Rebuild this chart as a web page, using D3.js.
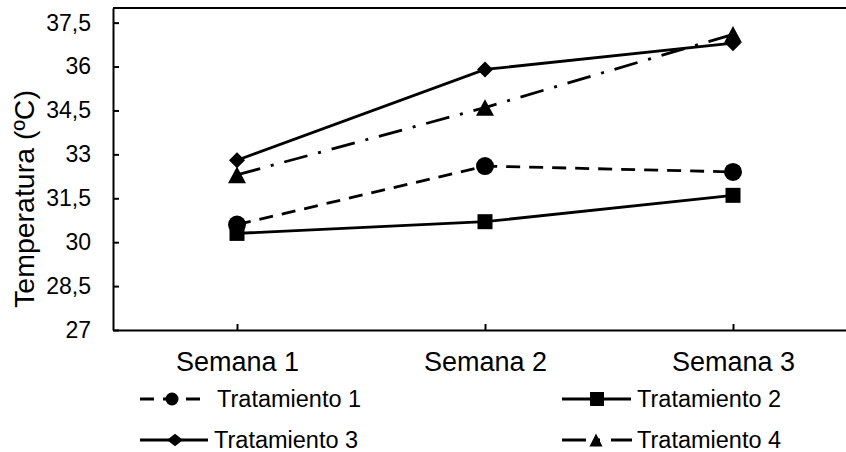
<!DOCTYPE html>
<html>
<head>
<meta charset="utf-8">
<script src="https://cdn.jsdelivr.net/npm/d3@7"></script>
<style>
  html, body { margin: 0; padding: 0; background: #fff; }
  svg { display: block; font-family: "Liberation Sans", Arial, sans-serif; }
</style>
</head>
<body>
<svg id="chart" width="846" height="452"></svg>
<script>
// Weekly temperature per treatment
const categories = ["Semana 1", "Semana 2", "Semana 3"];
const tratamiento1 = [30.6, 32.6, 32.4];
const tratamiento2 = [30.3, 30.7, 31.6];
const tratamiento3 = [32.8, 35.9, 36.8];
const tratamiento4 = [32.3, 34.6, 37.1];
const seriesNames = ["Tratamiento 1", "Tratamiento 2", "Tratamiento 3", "Tratamiento 4"];
const yTicks = [27, 28.5, 30, 31.5, 33, 34.5, 36, 37.5];
const yTitle = "Temperatura (ºC)";

// Marker shapes centred on their bounding box; size = width², aspect = height / width
function diamondSym(aspect) {
  return {
    draw(ctx, size) {
      const w = Math.sqrt(size) / 2, h = w * aspect;
      ctx.moveTo(0, -h); ctx.lineTo(w, 0); ctx.lineTo(0, h); ctx.lineTo(-w, 0); ctx.closePath();
    }
  };
}
function triangleSym(aspect) {
  return {
    draw(ctx, size) {
      const w = Math.sqrt(size), h = w * aspect;
      ctx.moveTo(0, -h / 2); ctx.lineTo(w / 2, h / 2); ctx.lineTo(-w / 2, h / 2); ctx.closePath();
    }
  };
}

const series = [
  { name: seriesNames[0], values: tratamiento1, dash: "14,9",
    sym: d3.symbolCircle, size: Math.PI * 9 * 9, legendSize: Math.PI * 6.5 * 6.5 },
  { name: seriesNames[1], values: tratamiento2, dash: null,
    sym: d3.symbolSquare, size: 15 * 15, legendSize: 14 * 14 },
  { name: seriesNames[2], values: tratamiento3, dash: null,
    sym: diamondSym(1), size: 16 * 16, legendSym: diamondSym(0.78), legendSize: 16 * 16 },
  { name: seriesNames[3], values: tratamiento4, dash: "24,11,3,11",
    sym: triangleSym(0.92), size: 18 * 18, legendSym: triangleSym(1), legendSize: 13 * 13 }
];

const svg = d3.select("#chart");
const plot = { left: 113, right: 857, top: 8, bottom: 330 };

const x = d3.scalePoint().domain(categories).range([plot.left, plot.right]).padding(0.5);
const y = d3.scaleLinear().domain([27, 38]).range([plot.bottom, plot.top]);
const fmt = d3.formatLocale({ decimal: ",", thousands: ".", grouping: [3], currency: ["", ""] }).format("~g");

// Frame: top border, left and bottom axes
svg.append("line").attr("x1", plot.left).attr("x2", plot.right)
  .attr("y1", plot.top).attr("y2", plot.top)
  .attr("stroke", "#000").attr("stroke-width", 2);

const yAxis = svg.append("g").attr("transform", `translate(${plot.left},0)`)
  .call(d3.axisLeft(y).tickValues(yTicks).tickSize(-6).tickSizeOuter(0).tickPadding(22).tickFormat(fmt));
const xAxis = svg.append("g").attr("transform", `translate(0,${plot.bottom})`)
  .call(d3.axisBottom(x).tickSize(-6).tickSizeOuter(0).tickPadding(22));

[yAxis, xAxis].forEach(g => {
  g.select(".domain").attr("stroke", "#000").attr("stroke-width", 2);
  g.selectAll(".tick line").attr("stroke", "#000").attr("stroke-width", 2);
  g.selectAll(".tick text").attr("fill", "#000").attr("font-family", "Liberation Sans, Arial, sans-serif");
});
yAxis.selectAll(".tick text").attr("font-size", 23);
xAxis.selectAll(".tick text").attr("font-size", 27);

// Y axis title
svg.append("text")
  .attr("transform", `translate(34,199) rotate(-90)`)
  .attr("text-anchor", "middle")
  .attr("font-size", 28.5)
  .attr("fill", "#000")
  .text(yTitle);

// Lines and markers
const line = d3.line().x((d, i) => x(categories[i])).y(d => y(d));
const lines = svg.append("g");
series.forEach(s => {
  const g = lines.append("g");
  g.append("path")
    .attr("d", line(s.values))
    .attr("fill", "none")
    .attr("stroke", "#000")
    .attr("stroke-width", 2.8)
    .attr("stroke-dasharray", s.dash);
  g.selectAll("path.marker").data(s.values).join("path")
    .attr("class", "marker")
    .attr("transform", (d, i) => `translate(${x(categories[i])},${y(d)})`)
    .attr("d", d3.symbol().type(s.sym).size(s.size))
    .attr("fill", "#000");
});

// Legend: two columns, two rows
const legendPos = [
  { x1: 140, x2: 200, mx: 172, tx: 217, cy: 399 },
  { x1: 562, x2: 631, mx: 597, tx: 637, cy: 399 },
  { x1: 140, x2: 208, mx: 175, tx: 214, cy: 440 },
  { x1: 562, x2: 632, mx: 596, tx: 637, cy: 440 }
];
series.forEach((s, i) => {
  const p = legendPos[i];
  const g = svg.append("g");
  g.append("line")
    .attr("x1", p.x1).attr("x2", p.x2).attr("y1", p.cy).attr("y2", p.cy)
    .attr("stroke", "#000").attr("stroke-width", 2.8)
    .attr("stroke-dasharray", s.dash);
  g.append("path")
    .attr("transform", `translate(${p.mx},${p.cy})`)
    .attr("d", d3.symbol().type(s.legendSym || s.sym).size(s.legendSize))
    .attr("fill", "#000");
  g.append("text")
    .attr("x", p.tx).attr("y", p.cy)
    .attr("dy", "0.35em")
    .attr("font-size", 23.5)
    .attr("fill", "#000")
    .text(s.name);
});
</script>
</body>
</html>
